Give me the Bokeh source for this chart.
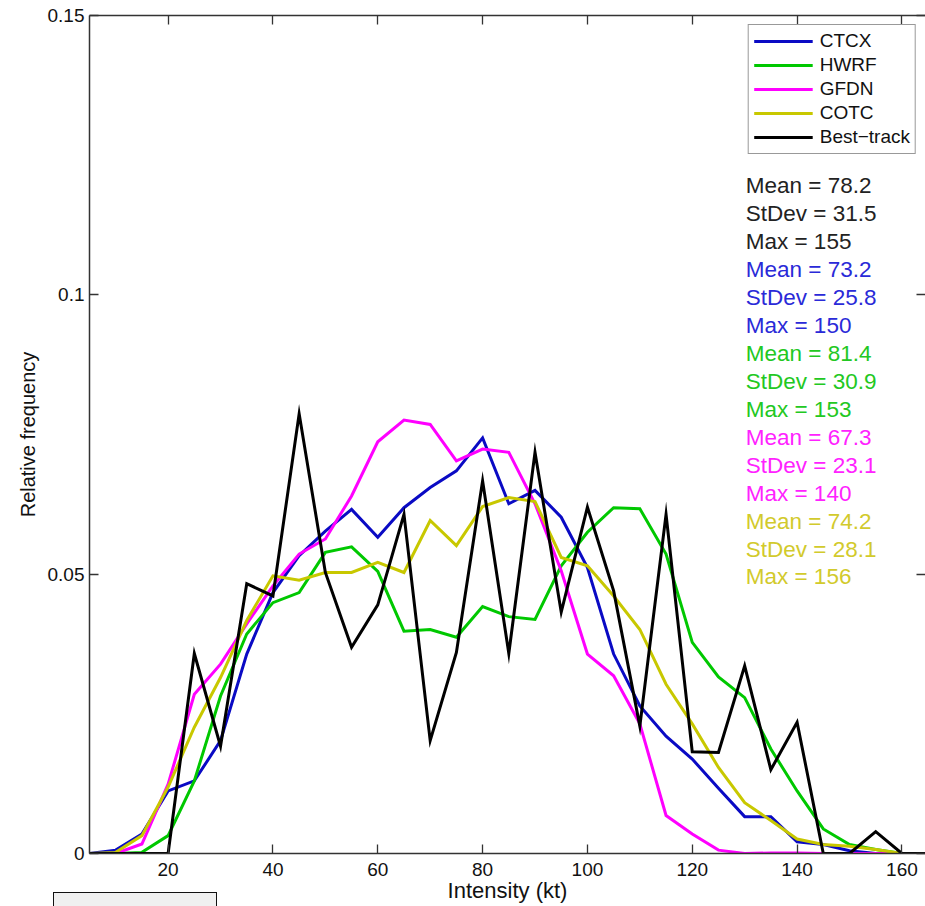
from bokeh.plotting import figure
from bokeh.layouts import column
from bokeh.models import (ColumnDataSource, LinearAxis, FixedTicker, Legend,
                          LegendItem, Range1d, Div)
from bokeh.core.properties import value
from bokeh.embed import file_html
from bokeh.resources import INLINE

# Intensity bins (kt)
intensity = [5, 10, 15, 20, 25, 30, 35, 40, 45, 50, 55, 60, 65, 70, 75, 80, 85,
             90, 95, 100, 105, 110, 115, 120, 125, 130, 135, 140, 145, 150, 155,
             160, 165]

# Relative frequency per bin for each model and the best track
ctcx = [0, 0.0006, 0.0035, 0.0112, 0.0130, 0.0202, 0.0357, 0.0467, 0.0533,
        0.0577, 0.0616, 0.0566, 0.0619, 0.0655, 0.0685, 0.0744, 0.0626, 0.0650,
        0.0602, 0.0512, 0.0357, 0.0264, 0.0210, 0.0169, 0.0117, 0.0066, 0.0066,
        0.0021, 0.0016, 0.0005, 0, 0, 0]
hwrf = [0, 0, 0.0002, 0.0032, 0.0130, 0.0282, 0.0393, 0.0449, 0.0467, 0.0539,
        0.0549, 0.0505, 0.0398, 0.0401, 0.0387, 0.0442, 0.0424, 0.0419, 0.0515,
        0.0575, 0.0619, 0.0617, 0.0536, 0.0378, 0.0316, 0.0279, 0.0187, 0.0112,
        0.0044, 0.0016, 0.0007, 0, 0]
gfdn = [0, 0, 0.0017, 0.0124, 0.0285, 0.0339, 0.0411, 0.0479, 0.0536, 0.0563,
        0.0640, 0.0737, 0.0776, 0.0768, 0.0703, 0.0724, 0.0718, 0.0626, 0.0506,
        0.0357, 0.0318, 0.0232, 0.0068, 0.0035, 0.0006, 0, 0.0001, 0.0001, 0,
        0, 0, 0, 0]
cotc = [0, 0.0002, 0.0032, 0.0119, 0.0226, 0.0315, 0.0417, 0.0497, 0.0489,
        0.0503, 0.0503, 0.0521, 0.0503, 0.0596, 0.0551, 0.0621, 0.0637, 0.0630,
        0.0530, 0.0515, 0.0461, 0.0401, 0.0303, 0.0232, 0.0154, 0.0091, 0.0059,
        0.0026, 0.0016, 0.0013, 0.0007, 0, 0]
best_track = [0, 0, 0, 0, 0.0358, 0.0192, 0.0483, 0.0461, 0.0787, 0.0503,
              0.0369, 0.0445, 0.0607, 0.0202, 0.0360, 0.0667, 0.0358, 0.0718,
              0.0432, 0.0620, 0.0470, 0.0228, 0.0607, 0.0182, 0.0181, 0.0336,
              0.0150, 0.0235, 0, 0, 0.0039, 0, 0]

series_names = ["CTCX", "HWRF", "GFDN", "COTC", "Best\u2212track"]
series_values = [ctcx, hwrf, gfdn, cotc, best_track]
line_colors = ["#0a0ac4", "#00c800", "#ff00ff", "#c8c800", "#000000"]

# Summary statistics, listed best track first
stat_order = ["Best-track", "CTCX", "HWRF", "GFDN", "COTC"]
stat_mean = [78.2, 73.2, 81.4, 67.3, 74.2]
stat_stdev = [31.5, 25.8, 30.9, 23.1, 28.1]
stat_max = [155, 150, 153, 140, 156]
stat_colors = ["#222222", "#2a2ad8", "#22c822", "#ff22ff", "#d2ca2c"]

x_ticks = [20, 40, 60, 80, 100, 120, 140, 160]
x_tick_labels = ["20", "40", "60", "80", "100", "120", "140", "160"]
y_ticks = [0, 0.05, 0.1, 0.15]
y_tick_labels = ["0", "0.05", "0.1", "0.15"]

FONT = "Liberation Sans"
AXIS_COLOR = "#333333"

p = figure(width=925, height=906,
           x_range=Range1d(5, 164.5), y_range=Range1d(0, 0.15),
           output_backend="svg", toolbar_location=None,
           min_border_left=89, min_border_right=0,
           min_border_top=15, min_border_bottom=53,
           x_axis_label="Intensity (kt)", y_axis_label="Relative frequency")
p.grid.visible = False
p.outline_line_color = None
p.background_fill_color = "white"
p.border_fill_color = "white"


def style_axis(ax, ticks, labels, show_labels=True, show_line=True):
    ax.ticker = FixedTicker(ticks=ticks)
    ax.major_label_overrides = {t: (lab if show_labels else "")
                                for t, lab in zip(ticks, labels)}
    ax.major_tick_in = 9
    ax.major_tick_out = 0
    ax.minor_tick_in = 0
    ax.minor_tick_out = 0
    ax.major_tick_line_color = AXIS_COLOR
    ax.major_tick_line_width = 1.3
    ax.axis_line_color = AXIS_COLOR if show_line else None
    ax.axis_line_width = 1.5
    ax.major_label_text_font = FONT
    ax.major_label_text_color = "#111111"
    ax.axis_label_text_font = FONT
    ax.axis_label_text_font_style = "normal"
    ax.axis_label_text_color = "#111111"
    if not show_labels:
        ax.major_label_text_font_size = "0px"
        ax.major_label_standoff = 0


xb = p.xaxis[0]
style_axis(xb, x_ticks, x_tick_labels)
xb.major_label_text_font_size = "19px"
xb.major_label_standoff = 9
xb.axis_label_text_font_size = "22px"
xb.axis_label_standoff = -1

yl = p.yaxis[0]
style_axis(yl, y_ticks, y_tick_labels)
yl.major_label_text_font_size = "19px"
yl.major_label_standoff = 5
yl.axis_label_text_font_size = "20px"
yl.axis_label_standoff = 6

top_axis = LinearAxis()
style_axis(top_axis, x_ticks, x_tick_labels, show_labels=False)
p.add_layout(top_axis, "above")

right_axis = LinearAxis()
style_axis(right_axis, y_ticks, y_tick_labels, show_labels=False,
           show_line=False)
p.add_layout(right_axis, "right")

# Frequency curves
items = []
for name, vals, col in zip(series_names, series_values, line_colors):
    src = ColumnDataSource(dict(x=intensity, y=vals))
    r = p.line("x", "y", source=src, line_color=col, line_width=3,
               line_join="miter")
    items.append(LegendItem(label=name, renderers=[r]))

legend = Legend(items=items, location="top_right", margin=9,
                label_text_font=FONT, label_text_font_size="19px",
                label_text_color="#111111",
                glyph_width=59, glyph_height=20, label_height=20,
                label_standoff=7, padding=5, spacing=2,
                border_line_color=AXIS_COLOR, border_line_width=1.2,
                background_fill_color="white", background_fill_alpha=1)
p.add_layout(legend)

# Statistics text block
stat_text, stat_col, stat_y = [], [], []
line_y = 0.1195
for m, s, mx, c in zip(stat_mean, stat_stdev, stat_max, stat_colors):
    for t in (f"Mean = {m}", f"StDev = {s}", f"Max = {mx}"):
        stat_text.append(t)
        stat_col.append(c)
        stat_y.append(line_y)
        line_y -= 0.005
stat_src = ColumnDataSource(dict(x=[130.2] * len(stat_text), y=stat_y,
                                 text=stat_text, color=stat_col))
p.text("x", "y", text="text", source=stat_src, text_color="color",
       text_font=value(FONT), text_font_size="22.5px",
       text_baseline="middle", text_align="left")

# Edge of a neighbouring panel, tucked under the axis label area
panel_edge = Div(text="", width=164, height=16,
                 styles={"margin-top": "-14px", "margin-left": "53px",
                         "background-color": "#f0f0f0",
                         "border": "1.5px solid #111111",
                         "box-sizing": "border-box", "z-index": "5"})

layout = column(p, panel_edge, spacing=0)
open("out.html", "w").write(file_html(layout, INLINE))
